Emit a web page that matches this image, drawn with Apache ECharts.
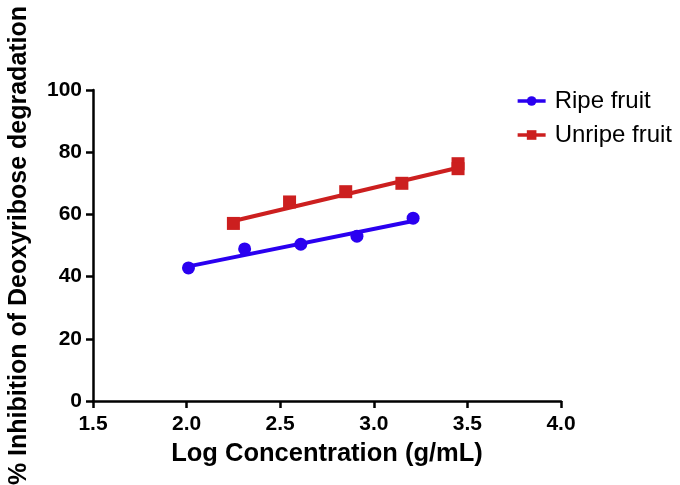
<!DOCTYPE html>
<html><head><meta charset="utf-8">
<script src="https://cdn.jsdelivr.net/npm/echarts@6/dist/echarts.min.js"></script>
<style>html,body{margin:0;padding:0;background:#fff}#c{width:680px;height:485px}</style>
</head><body><div id="c"></div>
<script>
const ripeX = [2.01, 2.31, 2.61, 2.91, 3.21];
const ripeY = [42.8, 48.9, 50.4, 53.0, 58.8];
const unripeX = [2.25, 2.55, 2.85, 3.15, 3.45, 3.45];
const unripeY = [57.1, 64.0, 67.3, 70.0, 76.3, 74.7];
const ripeFitX = [2.01, 3.21];
const ripeFitY = [43.3, 57.9];
const unripeFitX = [2.25, 3.45];
const unripeFitY = [57.9, 75.0];
const xTicks = [1.5, 2.0, 2.5, 3.0, 3.5, 4.0];
const yTicks = [0, 20, 40, 60, 80, 100];

const BLUE = '#2a00f0', RED = '#cc1f1f';
const zip = (a, b) => a.map((v, i) => [v, b[i]]);
const font = 'Liberation Sans, Arial, sans-serif';
const chart = echarts.init(document.getElementById('c'), null, {renderer: 'canvas'});
chart.setOption({
  animation: false,
  backgroundColor: '#fff',
  grid: {left: 93, right: 119, top: 90, bottom: 84, containLabel: false, outerBoundsMode: 'none'},
  legend: {
    data: ['Ripe fruit', 'Unripe fruit'],
    orient: 'vertical', right: 3, top: 84, itemGap: 10,
    itemWidth: 28, itemHeight: 12,
    lineStyle: {width: 3.5},
    textStyle: {fontFamily: font, fontSize: 24, color: '#000', padding: [0, 0, 0, 4]}
  },
  xAxis: {
    type: 'value', min: 1.5, max: 4.0, interval: 0.5,
    name: 'Log Concentration (g/mL)', nameLocation: 'middle', nameGap: 40,
    nameTextStyle: {fontFamily: font, fontSize: 25.5, fontWeight: 'bold', color: '#000'},
    axisLine: {lineStyle: {color: '#000', width: 2.5}},
    axisTick: {show: true, length: 7, lineStyle: {color: '#000', width: 2.5}},
    axisLabel: {fontFamily: font, fontSize: 21, fontWeight: 'bold', color: '#000', margin: 13,
      formatter: v => xTicks.includes(+v) ? (+v).toFixed(1) : ''},
    splitLine: {show: false}
  },
  yAxis: {
    type: 'value', min: 0, max: 100, interval: 20,
    name: '% Inhibition of Deoxyribose degradation', nameLocation: 'middle', nameGap: 61,
    nameTextStyle: {fontFamily: font, fontSize: 25, fontWeight: 'bold', color: '#000'},
    axisLine: {show: true, lineStyle: {color: '#000', width: 2.5}},
    axisTick: {show: true, length: 7, lineStyle: {color: '#000', width: 2.5}},
    axisLabel: {fontFamily: font, fontSize: 21, fontWeight: 'bold', color: '#000', margin: 11,
      formatter: v => yTicks.includes(+v) ? String(v) : ''},
    splitLine: {show: false}
  },
  series: [
    {name: 'Ripe fruit', type: 'line', data: zip(ripeFitX, ripeFitY), showSymbol: false,
     symbol: 'circle', symbolSize: 11, color: BLUE, itemStyle: {color: BLUE, opacity: 1},
     lineStyle: {color: BLUE, width: 4}, z: 2},
    {name: 'Unripe fruit', type: 'line', data: zip(unripeFitX, unripeFitY), showSymbol: false,
     symbol: 'rect', symbolSize: 11, color: RED, itemStyle: {color: RED, opacity: 1},
     lineStyle: {color: RED, width: 4}, z: 2},
    {name: 'Ripe fruit pts', type: 'scatter', data: zip(ripeX, ripeY), symbol: 'circle',
     symbolSize: 13, itemStyle: {color: BLUE, opacity: 1}, z: 3},
    {name: 'Unripe fruit pts', type: 'scatter', data: zip(unripeX, unripeY), symbol: 'rect',
     symbolSize: 13, itemStyle: {color: RED, opacity: 1}, z: 3}
  ]
});
</script></body></html>
